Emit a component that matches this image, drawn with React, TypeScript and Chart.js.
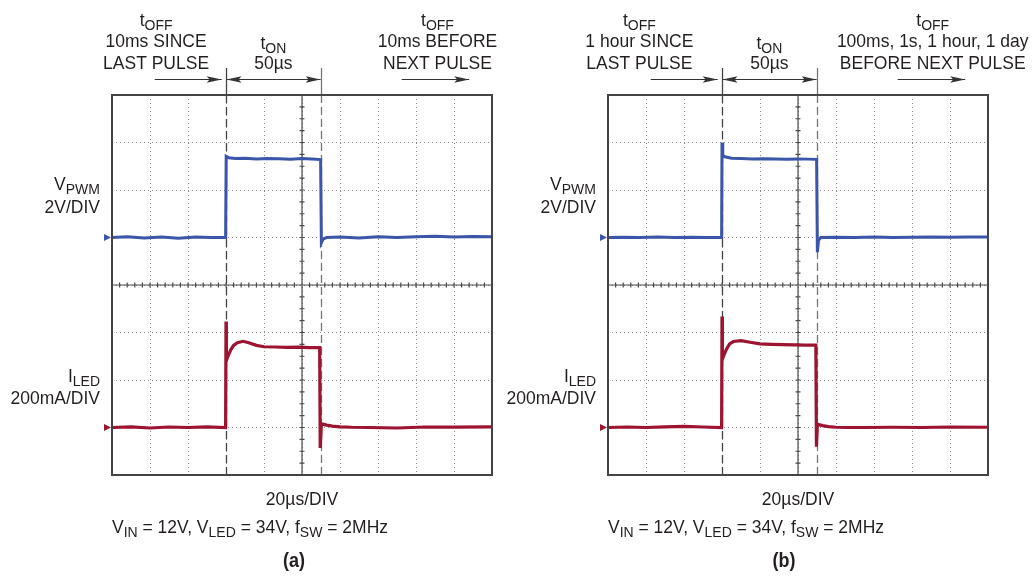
import React, { useEffect, useRef } from 'react';
import { Chart, registerables } from 'chart.js';

Chart.register(...registerables);

// ---------- axes (oscilloscope screen: 10 × 8 divisions) ----------
const T_MIN = 0; // µs
const T_MAX = 200; // µs (20µs/DIV × 10)
const T_STEP = 20;
const DIV_MIN = -4;
const DIV_MAX = 4;
const T_ON_START = 60; // µs
const T_ON_END = 110; // µs (tON = 50µs)
const VPWM_PER_DIV = 2; // V/DIV
const ILED_PER_DIV = 200; // mA/DIV
const VPWM_ZERO_DIV = 1; // ground marker of channel 1
const ILED_ZERO_DIV = -3; // ground marker of channel 2

// ---------- panel (a) ----------
const vpwmA_t = [0, 8, 17, 26, 35, 44, 52, 59.8, 60.1, 61.5, 65, 70, 76, 82, 88, 94, 100, 105, 109.8, 110.2, 111.2, 113, 120, 130, 140, 150, 160, 170, 180, 190, 200];
const vpwmA_v = [0, 0.03, -0.02, 0.02, -0.03, 0.02, 0, 0, 3.42, 3.36, 3.33, 3.34, 3.31, 3.33, 3.32, 3.3, 3.33, 3.31, 3.28, -0.22, -0.06, 0, 0.02, -0.02, 0.03, 0, 0.03, 0.05, 0.02, 0.04, 0.03];
const iledA_t = [0, 10, 20, 30, 40, 50, 59.8, 60.0, 60.2, 61, 62.5, 64, 66, 69, 72, 76, 80, 86, 92, 98, 104, 109.3, 109.6, 110.2, 111, 113, 116, 120, 126, 135, 150, 165, 180, 200];
const iledA_i = [0, 3, -2, 2, 0, 3, 0, 446, 282, 300, 327, 346, 357, 363, 357, 346, 340, 339, 337, 338, 336, 336, -86, 15, 14, 10, 6, 3, 1, 0, -2, 2, 2, 3];

// ---------- panel (b) ----------
const vpwmB_t = [0, 8, 17, 26, 35, 44, 52, 59.8, 60.0, 60.4, 61.5, 65, 70, 76, 82, 88, 94, 100, 105, 109.8, 110.2, 110.8, 112, 120, 130, 140, 150, 160, 170, 180, 190, 200];
const vpwmB_v = [0, 0.01, 0, 0.02, 0, 0.01, 0, 0, 4.0, 3.46, 3.4, 3.34, 3.33, 3.31, 3.32, 3.31, 3.3, 3.31, 3.3, 3.29, -0.62, -0.12, 0, 0.01, 0, 0.02, 0, 0.01, 0.02, 0.01, 0.02, 0.02];
const iledB_t = [0, 10, 20, 30, 40, 50, 59.8, 60.0, 60.2, 61, 62.5, 64, 66, 70, 74, 80, 86, 92, 98, 104, 109.4, 109.7, 110.2, 111, 113, 116, 120, 126, 135, 150, 165, 180, 200];
const iledB_i = [0, 2, 0, 3, 5, 2, 0, 467, 288, 305, 332, 352, 362, 366, 360, 352, 350, 349, 348, 347, 347, -81, 14, 12, 8, 4, 1, 0, 0, 1, 0, 2, 1];

// ---------- texts ----------
const leftNoteA = ['10ms SINCE', 'LAST PULSE'];
const rightNoteA = ['10ms BEFORE', 'NEXT PULSE'];
const leftNoteB = ['1 hour SINCE', 'LAST PULSE'];
const rightNoteB = ['100ms, 1s, 1 hour, 1 day', 'BEFORE NEXT PULSE'];
const onNote = '50µs';
const timeBaseLabel = '20µs/DIV';
const vpwmScaleLabel = '2V/DIV';
const iledScaleLabel = '200mA/DIV';

const BLUE = '#3b55a8';
const RED = '#9c1430';
const INK = '#231f20';
const FONT = '"Liberation Sans", Arial, sans-serif';
const V_STRETCH = 1.1;

type Seg = [string, boolean?];

function drawRich(ctx: CanvasRenderingContext2D, segs: Seg[], x: number, y: number, align: 'left' | 'center' | 'right', size = 17.5, bold = false) {
  const main = `${bold ? 'bold ' : ''}${size}px ${FONT}`;
  const sub = `${size * 0.8}px ${FONT}`;
  let w = 0;
  for (const [t, s] of segs) {
    ctx.font = s ? sub : main;
    w += ctx.measureText(t).width;
  }
  let cx = align === 'left' ? x : align === 'center' ? x - w / 2 : x - w;
  ctx.textAlign = 'left';
  ctx.textBaseline = 'alphabetic';
  ctx.fillStyle = INK;
  for (const [t, s] of segs) {
    ctx.font = s ? sub : main;
    ctx.save();
    ctx.translate(cx, s ? y + 4 : y);
    ctx.scale(1, V_STRETCH);
    ctx.fillText(t, 0, 0);
    ctx.restore();
    cx += ctx.measureText(t).width;
  }
}

function arrowHead(ctx: CanvasRenderingContext2D, x: number, y: number, dir: number) {
  ctx.beginPath();
  ctx.moveTo(x, y);
  ctx.lineTo(x - dir * 15, y - 3.3);
  ctx.lineTo(x - dir * 12, y);
  ctx.lineTo(x - dir * 15, y + 3.3);
  ctx.closePath();
  ctx.fill();
}

type Panel = {
  vt: number[];
  vv: number[];
  it: number[];
  ii: number[];
  leftNote: string[];
  rightNote: string[];
  leftNoteX: number;
  onNoteX: number;
  rightNoteX: number;
  caption: string;
  captionX: number;
  padLeft: number;
  padRight: number;
};

const panels: Panel[] = [
  { vt: vpwmA_t, vv: vpwmA_v, it: iledA_t, ii: iledA_i, leftNote: leftNoteA, rightNote: rightNoteA, leftNoteX: 23.2, onNoteX: 84.9, rightNoteX: 171.3, caption: '(a)', captionX: 95.8, padLeft: 112, padRight: 540 },
  { vt: vpwmB_t, vv: vpwmB_v, it: iledB_t, ii: iledB_i, leftNote: leftNoteB, rightNote: rightNoteB, leftNoteX: 16.5, onNoteX: 84.9, rightNoteX: 170.9, caption: '(b)', captionX: 92.6, padLeft: 608, padRight: 44 },
];

function ScopePanel({ p }: { p: Panel }) {
  const ref = useRef<HTMLCanvasElement>(null);
  useEffect(() => {
    const decor = {
      id: 'scopeDecor',
      beforeDatasetsDraw(chart: any) {
        const ctx: CanvasRenderingContext2D = chart.ctx;
        const xs = chart.scales.x;
        const ys = chart.scales.y;
        const a = chart.chartArea;
        ctx.save();
        // center crosshair with minor ticks
        const cx = xs.getPixelForValue((T_MIN + T_MAX) / 2);
        const cy = ys.getPixelForValue(0);
        ctx.strokeStyle = '#4a4a4a';
        ctx.lineWidth = 1.2;
        ctx.beginPath();
        ctx.moveTo(a.left, cy);
        ctx.lineTo(a.right, cy);
        ctx.moveTo(cx, a.top);
        ctx.lineTo(cx, a.bottom);
        for (let t = T_MIN; t <= T_MAX; t += T_STEP / 5) {
          const px = xs.getPixelForValue(t);
          ctx.moveTo(px, cy - 2.5);
          ctx.lineTo(px, cy + 2.5);
        }
        for (let d = DIV_MIN; d <= DIV_MAX; d += 0.25) {
          const py = ys.getPixelForValue(d);
          ctx.moveTo(cx - 2.5, py);
          ctx.lineTo(cx + 2.5, py);
        }
        ctx.stroke();
        // tON marker lines
        [[T_ON_START, '#444'], [T_ON_END, '#777']].forEach(([t, col]) => {
          const px = Math.round(xs.getPixelForValue(t as number)) + 0.5;
          ctx.strokeStyle = col as string;
          ctx.lineWidth = 1.3;
          ctx.setLineDash([]);
          ctx.beginPath();
          ctx.moveTo(px, 68);
          ctx.lineTo(px, a.top);
          ctx.stroke();
          ctx.setLineDash([8, 4]);
          ctx.beginPath();
          ctx.moveTo(px, a.top);
          ctx.lineTo(px, a.bottom);
          ctx.stroke();
        });
        ctx.restore();
      },
      afterDatasetsDraw(chart: any) {
        const ctx: CanvasRenderingContext2D = chart.ctx;
        const xs = chart.scales.x;
        const ys = chart.scales.y;
        const a = chart.chartArea;
        ctx.save();
        // frame
        ctx.strokeStyle = '#444';
        ctx.lineWidth = 2;
        ctx.strokeRect(a.left, a.top, a.right - a.left, a.bottom - a.top);
        // ground markers
        [[VPWM_ZERO_DIV, BLUE], [ILED_ZERO_DIV, RED]].forEach(([d, col]) => {
          const py = ys.getPixelForValue(d as number);
          ctx.fillStyle = col as string;
          ctx.beginPath();
          ctx.moveTo(a.left - 1, py);
          ctx.lineTo(a.left - 8, py - 3.5);
          ctx.lineTo(a.left - 8, py + 3.5);
          ctx.closePath();
          ctx.fill();
        });
        // arrows
        const ay = 79.5;
        ctx.strokeStyle = '#333';
        ctx.fillStyle = '#333';
        ctx.lineWidth = 1.2;
        const seg = (t0: number, t1: number, headL: boolean, headR: boolean) => {
          const x0 = xs.getPixelForValue(t0);
          const x1 = xs.getPixelForValue(t1);
          ctx.beginPath();
          ctx.moveTo(x0, ay);
          ctx.lineTo(x1, ay);
          ctx.stroke();
          if (headR) arrowHead(ctx, x1, ay, 1);
          if (headL) arrowHead(ctx, x0, ay, -1);
        };
        seg(22.5, 57.7, false, true);
        seg(T_ON_START + 0.3, T_ON_END - 0.2, true, true);
        seg(152.5, 188, false, true);
        // top notes
        const lx = xs.getPixelForValue(p.leftNoteX);
        drawRich(ctx, [['t'], ['OFF', true]], lx, 26, 'center');
        drawRich(ctx, [[p.leftNote[0]]], lx, 47, 'center');
        drawRich(ctx, [[p.leftNote[1]]], lx, 68.5, 'center');
        const mx = xs.getPixelForValue(p.onNoteX);
        drawRich(ctx, [['t'], ['ON', true]], mx, 48.5, 'center');
        drawRich(ctx, [[onNote]], mx, 68.5, 'center');
        const rx = xs.getPixelForValue(p.rightNoteX);
        drawRich(ctx, [['t'], ['OFF', true]], rx, 26, 'center');
        drawRich(ctx, [[p.rightNote[0]]], rx, 47, 'center');
        drawRich(ctx, [[p.rightNote[1]]], rx, 68.5, 'center');
        // channel labels
        const chx = a.left - 12;
        drawRich(ctx, [['V'], ['PWM', true]], chx, 189.5, 'right');
        drawRich(ctx, [[vpwmScaleLabel]], chx, 212.5, 'right');
        drawRich(ctx, [['I'], ['LED', true]], chx, 382, 'right');
        drawRich(ctx, [[iledScaleLabel]], chx, 404, 'right');
        // bottom
        drawRich(ctx, [[timeBaseLabel]], (a.left + a.right) / 2, 505, 'center');
        drawRich(ctx, [['V'], ['IN', true], [' = 12V, V'], ['LED', true], [' = 34V, f'], ['SW', true], [' = 2MHz']], a.left, 533, 'left');
        drawRich(ctx, [[p.caption]], xs.getPixelForValue(p.captionX), 567, 'center', 18, true);
        ctx.restore();
      },
    };

    const chart = new Chart(ref.current as HTMLCanvasElement, {
      type: 'line',
      data: {
        datasets: [
          {
            data: p.vt.map((t, i) => ({ x: t, y: VPWM_ZERO_DIV + p.vv[i] / VPWM_PER_DIV })),
            borderColor: BLUE,
            borderWidth: 3,
            pointRadius: 0,
            tension: 0,
            fill: false,
          },
          {
            data: p.it.map((t, i) => ({ x: t, y: ILED_ZERO_DIV + p.ii[i] / ILED_PER_DIV })),
            borderColor: RED,
            borderWidth: 3.2,
            pointRadius: 0,
            tension: 0,
            fill: false,
          },
        ],
      },
      options: {
        responsive: false,
        animation: false,
        devicePixelRatio: 1,
        layout: { padding: { left: p.padLeft, right: p.padRight, top: 95, bottom: 106 } },
        plugins: { legend: { display: false }, tooltip: { enabled: false } },
        scales: {
          x: {
            type: 'linear',
            min: T_MIN,
            max: T_MAX,
            ticks: { display: false, stepSize: T_STEP },
            grid: { color: '#8c8c8c', lineWidth: 1, drawTicks: false },
            border: { display: false, dash: [1, 3] },
          },
          y: {
            type: 'linear',
            min: DIV_MIN,
            max: DIV_MAX,
            ticks: { display: false, stepSize: 1 },
            grid: { color: '#8c8c8c', lineWidth: 1, drawTicks: false },
            border: { display: false, dash: [1, 3] },
          },
        },
      },
      plugins: [decor],
    } as any);
    return () => chart.destroy();
  }, [p]);
  return <canvas ref={ref} width={1032} height={581} style={{ position: 'absolute', left: 0, top: 0 }} />;
}

export default function App() {
  return (
    <div style={{ position: 'absolute', left: 0, top: 0, width: 1032, height: 581, background: '#fff', overflow: 'hidden' }}>
      <ScopePanel p={panels[0]} />
      <ScopePanel p={panels[1]} />
    </div>
  );
}
